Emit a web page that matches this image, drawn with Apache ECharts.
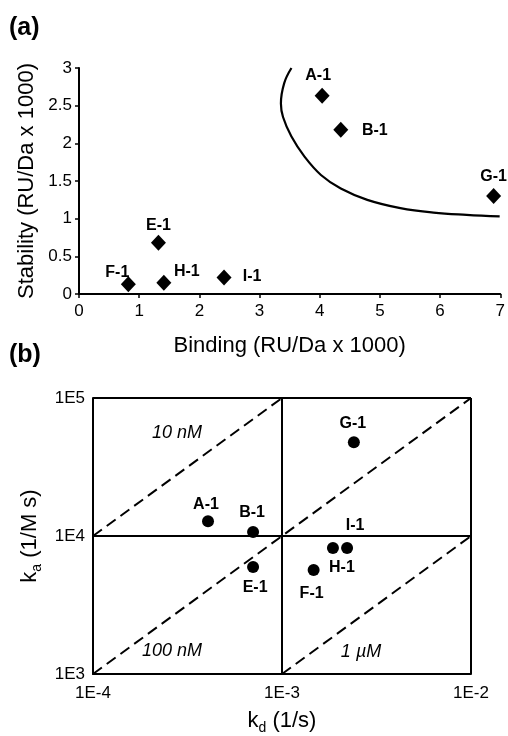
<!DOCTYPE html>
<html>
<head>
<meta charset="utf-8">
<script src="https://cdn.jsdelivr.net/npm/echarts@6/dist/echarts.min.js"></script>
<style>
html,body{margin:0;padding:0;background:#fff;}
#c{width:508px;height:736px;}
</style>
</head>
<body>
<div id="c"></div>
<script>
// ---------- Panel (a) data ----------
const aNames = ['A-1','B-1','G-1','E-1','F-1','H-1','I-1'];
const aBinding = [4.04, 4.35, 6.89, 1.32, 0.82, 1.41, 2.41];
const aStability = [2.63, 2.18, 1.30, 0.68, 0.13, 0.15, 0.22];
const curveX = [3.53, 3.41, 3.355, 3.39, 3.53, 3.75, 4.02, 4.35, 4.79, 5.34, 5.89, 6.44, 6.99];
const curveY = [3.00, 2.80, 2.53, 2.35, 2.09, 1.82, 1.58, 1.40, 1.25, 1.14, 1.08, 1.05, 1.03];

// ---------- Panel (b) data ----------
const bNames = ['A-1','B-1','G-1','E-1','F-1','H-1','I-1'];
const bKd = [4.06e-4, 7.03e-4, 2.40e-3, 7.03e-4, 1.47e-3, 1.86e-3, 2.21e-3];
const bKa = [1.28e4, 1.07e4, 4.78e4, 5.96e3, 5.67e3, 8.19e3, 8.19e3];
const kdTicks = ['1E-4', '1E-3', '1E-2'];
const kaTicks = ['1E3', '1E4', '1E5'];
const isoNames = ['10 nM', '100 nM', '1 µM'];
const isoStartKd = [1e-4, 1e-4, 1e-3];
const isoStartKa = [1e4, 1e3, 1e3];
const isoEndKd = [1e-3, 1e-2, 1e-2];
const isoEndKa = [1e5, 1e5, 1e4];
const isoLabelKd = [2.78e-4, 2.62e-4, 2.62e-3];
const isoLabelKa = [5.57e4, 1.47e3, 1.44e3];

// ---------- layout / style (not data) ----------
const FONT = 'Liberation Sans, Arial, sans-serif';
const labelOffA = {'A-1':[-4,-20],'B-1':[34,1],'G-1':[0,-19],'E-1':[0,-17],'F-1':[-11,-12],'H-1':[23,-11],'I-1':[28,-1]};
const labelOffB = {'A-1':[-2,-17],'B-1':[-1,-19],'G-1':[-1,-19],'E-1':[2,21],'F-1':[-2,24],'H-1':[9,20],'I-1':[8,-22]};

const chart = echarts.init(document.getElementById('c'), null, {renderer:'canvas'});

const ptLabel = {show:true, position:'inside', color:'#000', fontFamily:FONT, fontWeight:'bold', fontSize:16};

const aScatter = aNames.map((n,i)=>({
  value:[aBinding[i], aStability[i]], name:n,
  label:Object.assign({}, ptLabel, {formatter:n, offset:labelOffA[n]})
}));
const bScatter = bNames.map((n,i)=>({
  value:[bKd[i], bKa[i]], name:n,
  label:Object.assign({}, ptLabel, {formatter:n, offset:labelOffB[n]})
}));

const isoSeries = isoNames.map((n,i)=>({
  type:'line', xAxisIndex:1, yAxisIndex:1, showSymbol:false, silent:true,
  data:[[isoStartKd[i], isoStartKa[i]],[isoEndKd[i], isoEndKa[i]]],
  lineStyle:{color:'#000', width:2, type:[11,6]}, z:3
}));

const isoText = {
  type:'scatter', xAxisIndex:1, yAxisIndex:1, symbolSize:0, silent:true,
  itemStyle:{opacity:1},
  data:isoNames.map((n,i)=>({value:[isoLabelKd[i], isoLabelKa[i]], name:n})),
  label:{show:true, position:'inside', formatter:p=>p.name, color:'#000', fontFamily:FONT, fontStyle:'italic', fontSize:18}
};

const tickFmt = (ticks, base) => v => ticks[Math.round(Math.log10(v)) - base];

const subRich = {
  m:{fontSize:22, fontFamily:FONT, color:'#000', lineHeight:22, verticalAlign:'top'},
  s:{fontSize:14, fontFamily:FONT, color:'#000', lineHeight:36, verticalAlign:'middle'}
};

const option = {
  animation:false,
  backgroundColor:'#fff',
  textStyle:{fontFamily:FONT},
  graphic:[
    {type:'text', left:9, top:16, style:{text:'(a)', font:'bold 25px '+FONT, fill:'#000'}},
    {type:'text', left:9, top:343, style:{text:'(b)', font:'bold 25px '+FONT, fill:'#000'}}
  ],
  grid:[
    {left:79, top:68, width:425, height:226},
    {left:93, top:398, width:378, height:276}
  ],
  xAxis:[
    {gridIndex:0, type:'value', min:0, max:7, interval:1,
     axisLine:{show:true, lineStyle:{color:'#000', width:2}},
     axisTick:{show:true, length:4, lineStyle:{color:'#000', width:1.5}},
     splitLine:{show:false},
     axisLabel:{color:'#000', fontSize:17, fontFamily:FONT, margin:9},
     name:'Binding (RU/Da x 1000)', nameLocation:'middle', nameGap:41,
     nameTextStyle:{color:'#000', fontSize:22, fontFamily:FONT}},
    {gridIndex:1, type:'log', logBase:10, min:1e-4, max:1e-2,
     axisLine:{show:true, lineStyle:{color:'#000', width:2}},
     axisTick:{show:false}, minorTick:{show:false},
     splitLine:{show:true, lineStyle:{color:'#000', width:2}},
     axisLabel:{color:'#000', fontSize:17, fontFamily:FONT, margin:11, formatter:tickFmt(kdTicks,-4)},
     name:'{m|k}{s|d}{m| (1/s)}', nameLocation:'middle', nameGap:36,
     nameTextStyle:{color:'#000', rich:subRich}}
  ],
  yAxis:[
    {gridIndex:0, type:'value', min:0, max:3, interval:0.5,
     axisLine:{show:true, lineStyle:{color:'#000', width:2}},
     axisTick:{show:true, length:4, lineStyle:{color:'#000', width:1.5}},
     splitLine:{show:false},
     axisLabel:{color:'#000', fontSize:17, fontFamily:FONT, margin:7},
     name:'Stability (RU/Da x 1000)', nameLocation:'middle', nameGap:40,
     nameTextStyle:{color:'#000', fontSize:22, fontFamily:FONT}},
    {gridIndex:1, type:'log', logBase:10, min:1e3, max:1e5,
     axisLine:{show:true, lineStyle:{color:'#000', width:2}},
     axisTick:{show:false}, minorTick:{show:false},
     splitLine:{show:true, lineStyle:{color:'#000', width:2}},
     axisLabel:{color:'#000', fontSize:17, fontFamily:FONT, margin:8, formatter:tickFmt(kaTicks,3)},
     name:'{m|k}{s|a}{m| (1/M s)}', nameLocation:'middle', nameGap:36,
     nameTextStyle:{color:'#000', rich:subRich}}
  ],
  series:[
    {type:'line', xAxisIndex:0, yAxisIndex:0, showSymbol:false, silent:true, smooth:0.4,
     data:curveX.map((x,i)=>[x, curveY[i]]),
     lineStyle:{color:'#000', width:2.2}},
    {type:'scatter', xAxisIndex:0, yAxisIndex:0, symbol:'diamond', symbolSize:[15,16],
     itemStyle:{color:'#000', opacity:1}, data:aScatter, z:5},
    ...isoSeries,
    isoText,
    {type:'scatter', xAxisIndex:1, yAxisIndex:1, symbol:'circle', symbolSize:12,
     itemStyle:{color:'#000', opacity:1}, data:bScatter, z:5}
  ]
};
chart.setOption(option);
</script>
</body>
</html>
